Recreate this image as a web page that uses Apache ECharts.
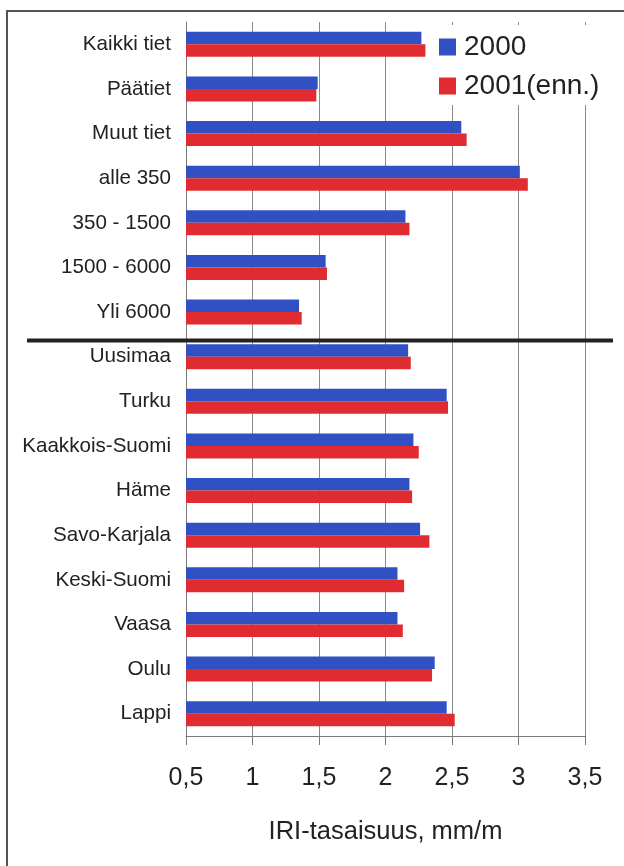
<!DOCTYPE html>
<html>
<head>
<meta charset="utf-8">
<title>IRI-tasaisuus</title>
<script src="https://cdn.jsdelivr.net/npm/echarts@6/dist/echarts.min.js"></script>
<style>
  html, body { margin: 0; padding: 0; background: #ffffff; }
  #chart { width: 624px; height: 866px; }
</style>
</head>
<body>
<div id="chart"></div>
<script>
// Road categories (top group) and road districts (bottom group)
const categories = [
  'Kaikki tiet', 'Päätiet', 'Muut tiet', 'alle 350', '350 - 1500', '1500 - 6000', 'Yli 6000',
  'Uusimaa', 'Turku', 'Kaakkois-Suomi', 'Häme', 'Savo-Karjala', 'Keski-Suomi', 'Vaasa', 'Oulu', 'Lappi'
];
const seriesNames = ['2000', '2001(enn.)'];
const values2000 = [2.27, 1.49, 2.57, 3.01, 2.15, 1.55, 1.35, 2.17, 2.46, 2.21, 2.18, 2.26, 2.09, 2.09, 2.37, 2.46];
const values2001 = [2.30, 1.48, 2.61, 3.07, 2.18, 1.56, 1.37, 2.19, 2.47, 2.25, 2.20, 2.33, 2.14, 2.13, 2.35, 2.52];
const tickLabels = ['0,5', '1', '1,5', '2', '2,5', '3', '3,5'];
// The separator is drawn between these two groups
const lastOfFirstGroup = 'Yli 6000';
const firstOfSecondGroup = 'Uusimaa';

const FONT = '"Liberation Sans", Arial, sans-serif';
const BLUE = '#3050c4';
const RED = '#e02c30';

const chart = echarts.init(document.getElementById('chart'), null, { renderer: 'canvas' });

const option = {
  backgroundColor: '#ffffff',
  animation: false,
  textStyle: { fontFamily: FONT },
  legend: {
    orient: 'vertical',
    left: 431,
    top: 25,
    padding: [8, 14, 5, 8],
    backgroundColor: '#ffffff',
    itemWidth: 17,
    itemHeight: 17,
    itemGap: 11,
    icon: 'rect',
    textStyle: {
      fontFamily: FONT,
      fontSize: 28,
      lineHeight: 28,
      color: '#222222',
      padding: [0, 0, 0, 3]
    },
    data: seriesNames
  },
  grid: {
    left: 186,
    right: 39,
    top: 22,
    height: 714,
    containLabel: false
  },
  xAxis: {
    type: 'value',
    min: 0.5,
    max: 3.5,
    interval: 0.5,
    name: 'IRI-tasaisuus, mm/m',
    nameLocation: 'middle',
    nameGap: 83,
    nameTextStyle: { fontFamily: FONT, fontSize: 25.5, color: '#222222' },
    axisLine: { show: true, lineStyle: { color: '#7a7a7a', width: 1 } },
    axisTick: { show: true, length: 9, lineStyle: { color: '#7a7a7a', width: 1 } },
    axisLabel: {
      fontFamily: FONT,
      fontSize: 25,
      color: '#222222',
      margin: 30,
      formatter: function (v) {
        return tickLabels[Math.round((v - 0.5) / 0.5)];
      }
    },
    splitLine: { show: true, lineStyle: { color: '#8a8a8a', width: 1 } }
  },
  yAxis: {
    type: 'category',
    inverse: true,
    data: categories,
    axisLine: { show: true, lineStyle: { color: '#7a7a7a', width: 1 } },
    axisTick: { show: false },
    axisLabel: { fontFamily: FONT, fontSize: 20.6, color: '#222222', margin: 15 }
  },
  series: [
    {
      name: seriesNames[0],
      type: 'bar',
      data: values2000,
      barWidth: 12.5,
      barGap: '0%',
      itemStyle: { color: BLUE }
    },
    {
      name: seriesNames[1],
      type: 'bar',
      data: values2001,
      barWidth: 12.5,
      barGap: '0%',
      itemStyle: { color: RED }
    }
  ]
};

chart.setOption(option);

// Outer frame and the thick separator between the two groups
const yA = chart.convertToPixel({ yAxisIndex: 0 }, lastOfFirstGroup);
const yB = chart.convertToPixel({ yAxisIndex: 0 }, firstOfSecondGroup);
const sepY = yA + (yB - yA) * 0.64;

chart.setOption({
  graphic: [
    {
      type: 'rect',
      silent: true,
      z: 100,
      shape: { x: 7, y: 11, width: 640, height: 880 },
      style: { fill: 'none', stroke: '#555555', lineWidth: 2 }
    },
    {
      type: 'line',
      silent: true,
      z: 100,
      shape: { x1: 27, y1: sepY, x2: 613, y2: sepY },
      style: { stroke: '#222222', lineWidth: 4 }
    }
  ]
});
</script>
</body>
</html>
